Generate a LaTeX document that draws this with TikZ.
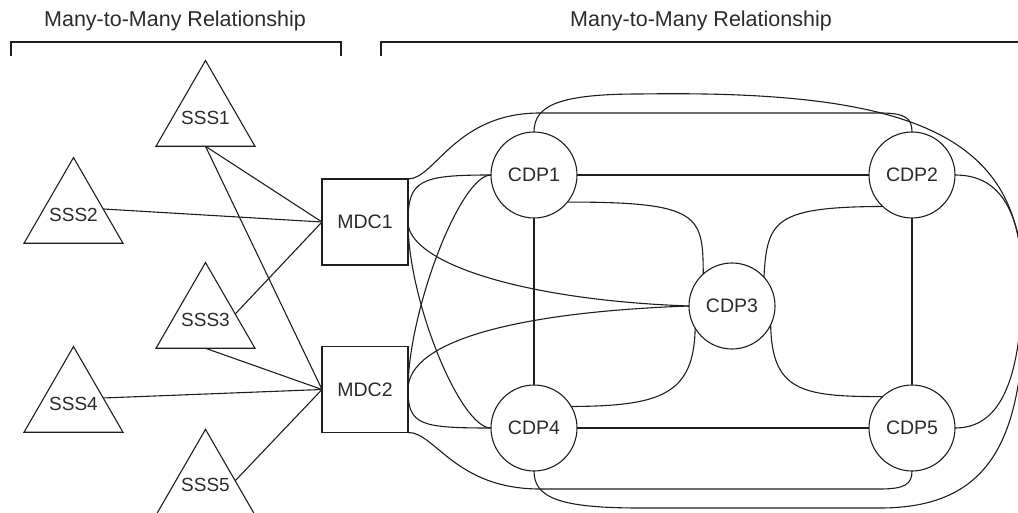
\documentclass[tikz,border=0pt]{standalone}
\usepackage{fontspec}
\setmainfont{Liberation Sans}
\usetikzlibrary{shapes.geometric,calc}
\definecolor{lc}{HTML}{1E1E1E}
\definecolor{tc}{HTML}{2B2B2B}
\begin{document}
\begin{tikzpicture}[x=1pt,y=-1pt,
  ln/.style={draw=lc,line width=1.1pt},
  tri/.style={shape=regular polygon,regular polygon sides=3,minimum size=114.3pt,
              inner sep=0pt,outer sep=0pt,draw=lc,line width=1.1pt},
  lbl/.style={text=tc,inner sep=0pt,font=\fontsize{19}{22}\selectfont},
  mdc/.style={draw=lc,line width=1.1pt,minimum width=86pt,minimum height=86pt,
              inner sep=0pt,outer sep=0pt,text=tc,font=\fontsize{19.5}{22}\selectfont},
  cdp/.style={circle,draw=lc,line width=1.1pt,minimum size=86pt,inner sep=0pt,
              outer sep=0pt,text=tc,font=\fontsize{19.5}{22}\selectfont},
  ttl/.style={text=tc,inner sep=0pt,anchor=base,font=\fontsize{21.5}{24}\selectfont}]
\useasboundingbox (0,0) rectangle (1018,513);
\begin{scope}
\clip (0,0) rectangle (1018,513);

% group headings and brackets
\node[ttl] (t1) at (175,27) {Many-to-Many Relationship};
\node[ttl] (t2) at (701,27) {Many-to-Many Relationship};
\coordinate (b1a) at (11,56);  \coordinate (b1b) at (11,42);
\coordinate (b1c) at (341,42); \coordinate (b1d) at (341,56);
\coordinate (b2a) at (381,56); \coordinate (b2b) at (381,42);
\coordinate (b2c) at (1030,42);
\draw[ln] (b1a) -- (b1b) -- (b1c) -- (b1d);
\draw[ln] (b2a) -- (b2b) -- (b2c);

% storage sites
\node[tri] (s1) at (205.5,117.7) {};
\node[tri] (s2) at (73.5,214.7) {};
\node[tri] (s3) at (205.5,319.7) {};
\node[tri] (s4) at (73.5,403.7) {};
\node[tri] (s5) at (205.5,486.5) {};
\node[lbl] (s1t) at (s1.center) {SSS1};
\node[lbl] (s2t) at (s2.center) {SSS2};
\node[lbl] (s3t) at (s3.center) {SSS3};
\node[lbl] (s4t) at (s4.center) {SSS4};
\node[lbl] (s5t) at ($(s5.center)+(0,-2)$) {SSS5};
\coordinate (s2p) at ($(s2.corner 1)!0.6!(s2.corner 3)$);
\coordinate (s3p) at ($(s3.corner 1)!0.6!(s3.corner 3)$);
\coordinate (s4p) at ($(s4.corner 1)!0.6!(s4.corner 3)$);
\coordinate (s5p) at ($(s5.corner 1)!0.6!(s5.corner 3)$);

% metadata centres
\node[mdc] (m1) at (365,222) {MDC1};
\node[mdc] (m2) at (365,389.5) {MDC2};

% data points
\node[cdp] (c1) at (534,175) {CDP1};
\node[cdp] (c2) at (912,175) {CDP2};
\node[cdp] (c3) at (732,306) {CDP3};
\node[cdp] (c4) at (534,428) {CDP4};
\node[cdp] (c5) at (912,428) {CDP5};

% sites to metadata centres
\draw[ln] (s1.south) -- (m1.west);
\draw[ln] (s1.south) -- (m2.west);
\draw[ln] (s2p) -- (m1.west);
\draw[ln] (s3p) -- (m1.west);
\draw[ln] (s3.south) -- (m2.west);
\draw[ln] (s4p) -- (m2.west);
\draw[ln] (s5p) -- (m2.west);

% metadata centres to data points
\draw[ln] (m1.north east) .. controls (435,179) and (455,113) .. (540,113)
          -- (880,113) .. controls (905,113) and (912,118) .. (c2.north);
\draw[ln] (m1.east) .. controls (408,180) and (420,175) .. (c1.west);
\draw[ln] (m1.east) .. controls (408,262) and (520,300) .. (c3.west);
\draw[ln] (m1.east) .. controls (408,300) and (460,428) .. (c4.west);
\draw[ln] (m2.east) .. controls (408,312) and (460,175) .. (c1.west);
\draw[ln] (m2.east) .. controls (408,340) and (520,312) .. (c3.west);
\draw[ln] (m2.east) .. controls (408,425) and (420,428) .. (c4.west);
\draw[ln] (m2.south east) .. controls (435,432) and (455,489) .. (540,489)
          -- (880,489) .. controls (905,489) and (912,484) .. (c5.south);

% mesh between data points
\draw[ln] (c1) -- (c2);
\draw[ln] (c1) -- (c4);
\draw[ln] (c2) -- (c5);
\draw[ln] (c4) -- (c5);
\draw[ln] (c1.-39) .. controls (700,202) and (703,215) .. (c3.132);
\draw[ln] (c2.227) .. controls (775,207) and (767,220) .. (c3.42);
\draw[ln] (c3.-26) .. controls (772,390) and (800,397) .. (c5.133);
\draw[ln] (c3.211) .. controls (694,395) and (660,406) .. (c4.30);
\draw[ln] (c1.north) .. controls (534,105) and (560,94) .. (640,94)
          .. controls (900,90) and (1022,130) .. (1022,280)
          .. controls (1022,400) and (990,428) .. (c5.east);
\draw[ln] (c2.east) .. controls (1000,175) and (1024,210) .. (1024,300)
          .. controls (1024,440) and (990,508) .. (880,508)
          -- (640,508) .. controls (560,508) and (534,498) .. (c4.south);
\end{scope}
\end{tikzpicture}
\end{document}
